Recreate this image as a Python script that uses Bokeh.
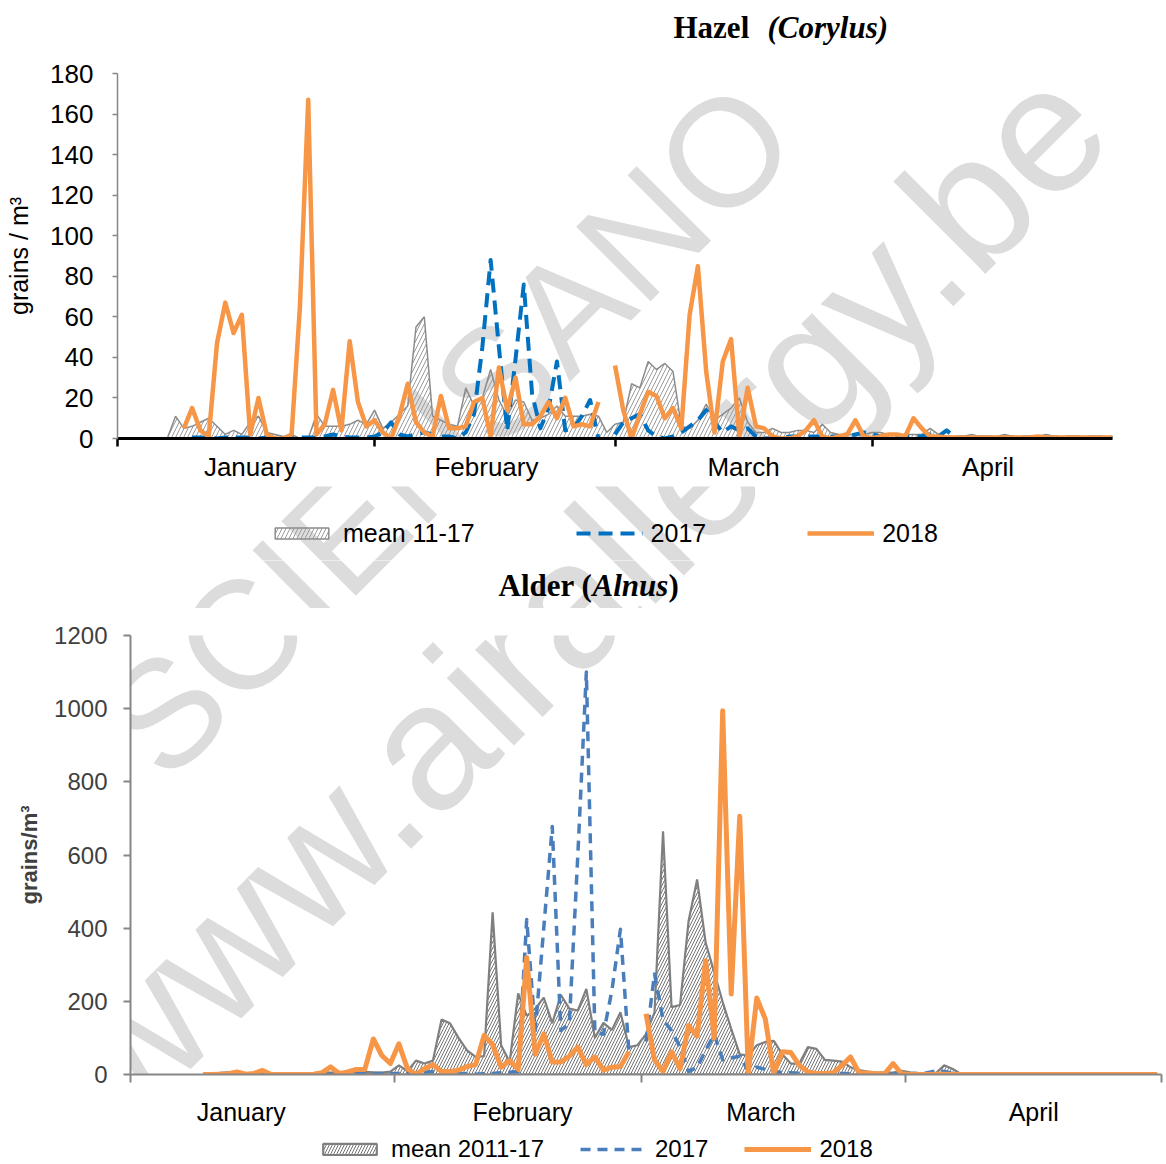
import numpy as np
from bokeh.plotting import figure
from bokeh.models import Label, Legend, LegendItem, FixedTicker, Range1d
from bokeh.layouts import column
from bokeh.embed import file_html
from bokeh.resources import INLINE

# ---------------- data (daily values, Jan 1 .. Apr 30, index 59 = Feb 29) ----------------
month_names = ["January", "February", "March", "April"]
month_starts = [0, 31, 60, 91]
N_DAYS = 121
days = list(range(N_DAYS))

# Hazel (Corylus)
hazel_mean_jan = [None] * 6 + [0, 11, 5, 6, 8, 10, 6, 2, 4, 2, 8, 11, 3, 2, 1, 2, 0, 0, 12, 6, 6, 6, 7, 9, 7]
hazel_mean_feb = [14, 5, 8, 12, 16, 55, 60, 11, 9, 7, 6, 25, 16, 20, 34, 19, 11, 19, 18, 9,
                  10, 12, 16, 11, 11, 11, 12, 11, 3]
hazel_mean_mar = [7, 8, 27, 25, 38, 34, 37, 33, 6, 5, 9, 17, 9, 12, 15, 20, 8, 3, 3, 5,
                  3, 3, 4, 4, 3, 7, 3, 2, 2, 2, 2]
hazel_mean_apr = [3, 3, 2, 2, 2, 2, 2, 5, 2, 1, 1, 1, 2, 1, 1, 1, 2, 1, 1, 1,
                  1, 2, 1, 1, 1, 1, 1, 1, 1, 1]

hazel_2017_jan = [None] * 9 + [0.5, 0.5, 0.5, 0, 0.5, 0.5, 0.5, 0.5, 0, 0.5, 0.5, 0, 0.5, 0.5, 0.5, 0.5,
                               1, 2, 1, 0.5, 0.5, 0.5]
hazel_2017_feb = [1, 3, 8, 2, 1, 2, 3, 2, 1, 1, 0, 3, 12, 45, 88, 45, 4, 39, 76, 22,
                  5, 15, 38, 4, 5, 11, 19, 0, None]
hazel_2017_mar = [2, 8, 10, 12, 4, 1, 0, 1, 3, 6, 9, 14, 8, 3, 6, 4, 5, 1, 0, 0,
                  0, 1, 1, 1, 1, 1, 1, 1, 1, 2, 3]
hazel_2017_apr = [2, 1, 1, 1, 1, 1, 1, 2, 1, 4] + [0.5] * 20

hazel_2018_jan = [None] * 8 + [5, 15, 4, 1, 47, 67, 52, 61, 2, 20, 2, 0, 0, 2, 65, 167, 2, 7, 24, 4,
                               48, 18, 6]
hazel_2018_feb = [9, 3, 0, 11, 27, 8, 3, 1, 21, 5, 5, 6, 18, 20, 1, 35, 14, 30, 7, 7,
                  11, 18, 10, 20, 6, 7, 6, 18, None]
hazel_2018_mar = [36, 14, 0, 12, 23, 21, 10, 15, 5, 61, 85, 33, 3, 38, 49, 1, 25, 6, 5, 1,
                  0, 0, 1, 4, 9, 1, 0, 1, 2, 9, 1]
hazel_2018_apr = [0, 1, 2, 2, 1, 10, 5, 1, 1, 0.5, 0.5, 0.5, 0.5, 0.5, 0.5, 0.5, 0.5, 0.5, 0.5, 0.5,
                  1, 0.5, 0.5, 0.5, 0.5, 0.5, 0.5, 0.5, 0.5, 0.5]

# Alder (Alnus)
alder_mean_jan = [None] * 9 + [2, 3, 3, 2, 4, 3, 5, 3, 2, 3, 2, 3, 4, 6, 5, 7, 6, 8, 7, 6, 5, 8]
alder_mean_feb = [25, 9, 38, 30, 38, 150, 140, 100, 66, 48, 50, 443, 80, 34, 222, 160, 180, 210, 140, 218,
                  180, 175, 234, 100, 141, 122, 170, 75, 80]
alder_mean_mar = [110, 170, 665, 184, 190, 420, 533, 360, 280, 198, 125, 55, 52, 80, 89, 92, 55, 30, 30, 75,
                  70, 40, 38, 35, 20, 12, 8, 5, 5, 5, 10]
alder_mean_apr = [6, 4, 3, 3, 25, 15, 1, 0, 0, 0] + [0] * 20

alder_2017_jan = [None] * 10 + [3, 4, 2, 1, 0, 1, 2, 1, 0, 0, 1, 0, 0, 1, 2, 3, 4, 3, 2, 3, 2]
alder_2017_feb = [3, 2, 4, 6, 8, 4, 2, 3, 2, 1, 2, 3, 5, 6, 8, 424, 120, 400, 678, 120,
                  140, 600, 1100, 115, 110, 230, 397, 60, None]
alder_2017_mar = [90, 275, 150, 120, 75, 8, 20, 66, 110, 40, 45, 50, 10, 20, 14, 8, 5, 5, 3, 3,
                  3, 2, 2, 3, 2, 2, 2, 1, 1, 1, 2]
alder_2017_apr = [2, 3, 5, 10, 8, 3, 1, 0, 0, 0] + [0] * 20

alder_2018_jan = [None] * 8 + [0, 0, 1, 2, 7, 1, 3, 11, 0, 0, 0, 0, 0, 1, 5, 21, 2, 7, 14, 14, 97, 52, 30]
alder_2018_feb = [84, 16, 0, 16, 27, 8, 8, 12, 22, 27, 107, 82, 20, 38, 14, 320, 55, 111, 34, 34,
                  50, 75, 27, 48, 12, 20, 22, 62, None]
alder_2018_mar = [166, 40, 8, 62, 16, 134, 105, 311, 100, 994, 220, 706, 5, 209, 152, 3, 62, 60, 25, 7,
                  3, 3, 5, 25, 48, 5, 4, 2, 2, 30, 2]
alder_2018_apr = [0, 0, 0, 1, 1] + [0] * 25

hazel_y_ticks = list(range(0, 181, 20))
alder_y_ticks = list(range(0, 1201, 200))
# month-name label positions (day index of label centre)
hazel_month_label_pos = [16, 44.5, 75.5, 105]
alder_month_label_pos = [13, 46, 74, 106]


def arr(*parts):
    vals = []
    for p in parts:
        vals += p
    assert len(vals) == N_DAYS, len(vals)
    return np.array([np.nan if v is None else v for v in vals], dtype=float)


hazel_mean = arr(hazel_mean_jan, hazel_mean_feb, hazel_mean_mar, hazel_mean_apr)
hazel_2017 = arr(hazel_2017_jan, hazel_2017_feb, hazel_2017_mar, hazel_2017_apr)
hazel_2018 = arr(hazel_2018_jan, hazel_2018_feb, hazel_2018_mar, hazel_2018_apr)
alder_mean = arr(alder_mean_jan, alder_mean_feb, alder_mean_mar, alder_mean_apr)
alder_2017 = arr(alder_2017_jan, alder_2017_feb, alder_2017_mar, alder_2017_apr)
alder_2018 = arr(alder_2018_jan, alder_2018_feb, alder_2018_mar, alder_2018_apr)

# ---------------- layout constants (page pixels, page has no margin) ----------------
SANS = "Liberation Sans"
SERIF = "Liberation Serif"
ORANGE = "#F79646"
HAZEL_BLUE = "#0070C0"
ALDER_BLUE = "#4A7EBB"
W = 1166
# vertical strips: (top, height)
S_T1 = (0, 46)      # Hazel title
S_P1 = (46, 440)    # Hazel chart
S_L1 = (486, 74)    # Hazel legend
S_T2 = (560, 48)    # Alder title
S_P2 = (608, 520)   # Alder chart
S_L2 = (1128, 36)   # Alder legend

# chart frames (page px)
T_L, T_R, T_T, T_B = 117, 1112, 73, 438
T_X0, T_X1, T_Y1 = 0, 120, 180
B_L, B_R, B_T, B_B = 130, 1161, 635, 1076
B_X0, B_X1, B_Y1 = 0, 121, 1200

WATERMARKS = [("SCIENSANO", 447, 428, "153px"), ("www.airallergy.be", 580, 590, "180px")]


def top_xy(X, Y):
    return (T_X0 + (X - T_L) * (T_X1 - T_X0) / (T_R - T_L), (T_B - Y) * T_Y1 / (T_B - T_T))


def bot_xy(X, Y):
    return (B_X0 + (X - B_L) * (B_X1 - B_X0) / (B_R - B_L), (B_B - Y) * B_Y1 / (B_B - B_T))


def page_xy(X, Y):
    return X, Y


def area_polygon(xs, ys):
    m = ~np.isnan(ys)
    x = np.asarray(xs, dtype=float)[m]
    y = ys[m]
    return [x[0]] + list(x) + [x[-1]], [0.0] + list(y) + [0.0]


def watermark(p, conv):
    for txt, X, Y, size in WATERMARKS:
        x, y = conv(X, Y)
        p.add_layout(Label(x=x, y=y, text=txt, angle=np.pi / 4, text_align="center",
                           text_baseline="middle", text_font=SANS, text_font_size=size,
                           text_color="#dcdcdc", level="underlay"))


def clean(p):
    p.outline_line_color = None
    p.grid.visible = False
    p.background_fill_color = "white"
    p.border_fill_color = "white"
    try:
        p.frame_align = False
    except Exception:
        pass
    return p


def make_chart(strip, l, r, t, b, xr, yr):
    top, h = strip
    p = figure(width=W, height=h, output_backend="svg", toolbar_location=None,
               x_range=Range1d(*xr), y_range=Range1d(*yr),
               min_border_left=l, min_border_right=W - r, min_border_top=t - top,
               min_border_bottom=top + h - b)
    return clean(p)


def make_strip(strip, with_watermark=True):
    """A frame-only figure whose data coordinates are page pixels."""
    top, h = strip
    p = figure(width=W, height=h, output_backend="svg", toolbar_location=None,
               x_range=Range1d(0, W), y_range=Range1d(top + h, top),
               x_axis_location=None, y_axis_location=None,
               min_border_left=0, min_border_right=0, min_border_top=0, min_border_bottom=0)
    clean(p)
    if with_watermark:
        watermark(p, page_xy)
    return p


def style_x_axis(ax, label_pos, color, line_w, standoff, font_size):
    ax.ticker = FixedTicker(ticks=label_pos, minor_ticks=month_starts + [N_DAYS])
    ax.major_label_overrides = {pos: name for pos, name in zip(label_pos, month_names)}
    ax.axis_line_color = color
    ax.axis_line_width = line_w
    ax.major_tick_line_color = None
    ax.major_tick_out = 8
    ax.major_tick_in = 0
    ax.minor_tick_line_color = color
    ax.minor_tick_line_width = 2.5 if color == "black" else 2
    ax.minor_tick_out = 8
    ax.minor_tick_in = 0
    ax.major_label_standoff = standoff
    ax.major_label_text_font = SANS
    ax.major_label_text_font_size = font_size
    ax.major_label_text_color = "black"


def style_y_axis(ax, ticks, line_w, tick_out, font_size, color, standoff, label, label_size,
                 label_style, label_standoff):
    ax.ticker = FixedTicker(ticks=ticks)
    ax.axis_line_color = "#868686"
    ax.axis_line_width = line_w
    ax.major_tick_line_color = "#868686"
    ax.major_tick_line_width = line_w
    ax.major_tick_out = tick_out
    ax.major_tick_in = 0
    ax.minor_tick_line_color = None
    ax.major_label_text_font = SANS
    ax.major_label_text_font_size = font_size
    ax.major_label_text_color = color
    ax.major_label_standoff = standoff
    ax.axis_label = label
    ax.axis_label_text_font = SANS
    ax.axis_label_text_font_size = label_size
    ax.axis_label_text_font_style = label_style
    ax.axis_label_text_color = color
    ax.axis_label_standoff = label_standoff


def title_strip(strip, parts, y, with_watermark):
    p = make_strip(strip, with_watermark)
    for txt, X, style in parts:
        p.add_layout(Label(x=X, y=y, text=txt, text_align="left", text_baseline="middle",
                           text_font=SERIF, text_font_size="31px", text_font_style=style,
                           text_color="black"))
    return p


def legend_strip(strip, mean_style, blue_style, orange_style, labels, x_left, y_center,
                 item_h, spacing, font_size, with_watermark):
    p = make_strip(strip, with_watermark)
    # legend-only renderers: a single sample placed outside the visible strip
    off = [-40, -30, -35]
    rm = p.patch(off, [-40, -40, -30], fill_color=None, hatch_pattern="/", **mean_style)
    rb = p.line(off[:2], [-40, -40], **blue_style)
    ro = p.line(off[:2], [-40, -40], **orange_style)
    top, h = strip
    vy = (top + h) - (y_center + item_h / 2)
    leg = Legend(items=[LegendItem(label=t, renderers=[r]) for t, r in zip(labels, [rm, rb, ro])],
                 location=(x_left, vy), orientation="horizontal", glyph_width=67, glyph_height=14,
                 label_standoff=8, label_height=item_h, spacing=spacing, padding=0, margin=0,
                 border_line_color=None, background_fill_alpha=0, label_text_font=SANS,
                 label_text_font_size=font_size, label_text_color="black")
    p.add_layout(leg)
    return p


# styles
H_MEAN = dict(hatch_color="#9c9c9c", hatch_scale=8, hatch_weight=1, line_color="#8c8c8c", line_width=1.5)
H_BLUE = dict(line_color=HAZEL_BLUE, line_width=4, line_dash="14 8", line_join="round")
H_ORANGE = dict(line_color=ORANGE, line_width=4.5, line_join="round")
A_MEAN = dict(hatch_color="#737373", hatch_scale=6, hatch_weight=1, line_color="#7f7f7f", line_width=2.2)
A_BLUE = dict(line_color=ALDER_BLUE, line_width=3.5, line_dash="10 7", line_join="round")
A_ORANGE = dict(line_color=ORANGE, line_width=5, line_join="round")

# ================= Hazel =================
t1 = title_strip(S_T1, [("Hazel", 673, "bold"), ("(Corylus)", 767, "bold italic")], 27, False)

p1 = make_chart(S_P1, T_L, T_R, T_T, T_B, (T_X0, T_X1), (0, T_Y1))
watermark(p1, top_xy)
style_x_axis(p1.xaxis[0], hazel_month_label_pos, "black", 3, 5, "26px")
style_y_axis(p1.yaxis[0], hazel_y_ticks, 1.5, 5, "26px", "black", 19, "grains / m³", "25px",
             "normal", 14)

px, py = area_polygon(days, hazel_mean)
p1.patch(px, py, fill_color=None, hatch_pattern="/", **H_MEAN)
p1.line(days, hazel_2017, **H_BLUE)
p1.line(days, hazel_2018, **H_ORANGE)

l1 = legend_strip(S_L1, H_MEAN, H_BLUE, H_ORANGE, ["mean 11-17", "2017", "2018"], 268, 533, 30, 101,
                  "25px", True)

# ================= Alder =================
t2 = title_strip(S_T2, [("Alder (", 498, "bold"), ("Alnus", 592, "bold italic"), (")", 668, "bold")],
                 585, True)

p2 = make_chart(S_P2, B_L, B_R, B_T, B_B, (B_X0, B_X1), (0, B_Y1))
watermark(p2, bot_xy)
style_x_axis(p2.xaxis[0], alder_month_label_pos, "#868686", 2, 15, "25px")
style_y_axis(p2.yaxis[0], alder_y_ticks, 2, 7, "24px", "#404040", 16, "grains/m³", "22px", "bold", 9)

xd = [d + 0.5 for d in days]
qx, qy = area_polygon(xd, alder_mean)
p2.patch(qx, qy, fill_color=None, hatch_pattern="/", **A_MEAN)
p2.line(xd, alder_2017, **A_BLUE)
p2.line(xd, alder_2018, **A_ORANGE)

l2 = legend_strip(S_L2, A_MEAN, A_BLUE, A_ORANGE, ["mean 2011-17", "2017", "2018"], 316, 1149, 28, 36,
                  "24px", False)

layout = column(t1, p1, l1, t2, p2, l2, spacing=0)
open("out.html", "w").write(file_html(layout, INLINE))
